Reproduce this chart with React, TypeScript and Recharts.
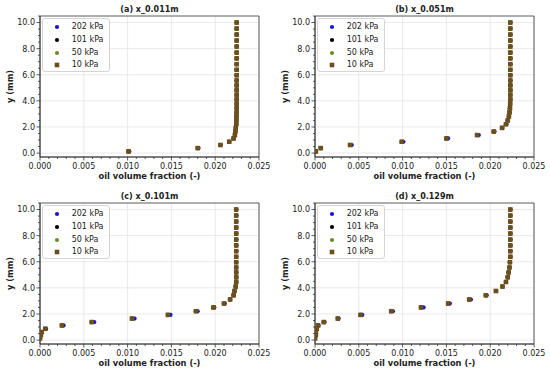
import React from "react";
import { CartesianGrid, Legend, ReferenceArea, Scatter, ScatterChart, XAxis, YAxis } from "recharts";

// y positions of the probe cells (mm), shared by all four stations
const yCells = [
  0.13, 0.38, 0.62, 0.87, 1.12, 1.38, 1.65, 1.93, 2.21, 2.5, 2.8, 3.11, 3.43, 3.76, 4.1, 4.45, 4.81, 5.18, 5.56,
  5.96, 6.38, 6.81, 7.25, 7.7, 8.16, 8.62, 9.08, 9.54, 10.0,
];

// (a) x_0.011m
const a10 = [
  0.0101, 0.018, 0.0206, 0.0216, 0.0221, 0.02225, 0.0223, 0.02235, 0.0224, 0.02242, 0.02243, 0.02244, 0.02245,
  0.02245, 0.02245, 0.02245, 0.02245, 0.02245, 0.02245, 0.02245, 0.02245, 0.02245, 0.02245, 0.02245, 0.02245,
  0.02245, 0.02245, 0.02245, 0.02245,
];
const a202 = [
  0.0102, 0.0181, 0.0206, 0.0216, 0.0221, 0.02225, 0.0223, 0.02235, 0.0224, 0.02242, 0.02243, 0.02244, 0.02245,
  0.02245, 0.02245, 0.02245, 0.02245, 0.02245, 0.02245, 0.02245, 0.02245, 0.02245, 0.02245, 0.02245, 0.02245,
  0.02245, 0.02245, 0.02245, 0.02245,
];

// (b) x_0.051m
const b10 = [
  0.0001, 0.00065, 0.004, 0.0099, 0.015, 0.0185, 0.0204, 0.02135, 0.0218, 0.022, 0.02213, 0.0222, 0.02225, 0.02228,
  0.0223, 0.0223, 0.0223, 0.0223, 0.0223, 0.0223, 0.0223, 0.0223, 0.0223, 0.0223, 0.0223, 0.0223, 0.0223, 0.0223,
  0.0223,
];
const b202 = [
  0.0001, 0.0007, 0.0042, 0.0101, 0.0152, 0.0187, 0.0205, 0.0214, 0.02185, 0.022, 0.02215, 0.0222, 0.02225, 0.02228,
  0.0223, 0.0223, 0.0223, 0.0223, 0.0223, 0.0223, 0.0223, 0.0223, 0.0223, 0.0223, 0.0223, 0.0223, 0.0223, 0.0223,
  0.0223,
];

// (c) x_0.101m
const c10 = [
  0.0, 0.0001, 0.0002, 0.0006, 0.0025, 0.0059, 0.0105, 0.0146, 0.0178, 0.0198, 0.021, 0.0217, 0.0221, 0.0222,
  0.02234, 0.0224, 0.0224, 0.0224, 0.0224, 0.0224, 0.0224, 0.0224, 0.0224, 0.0224, 0.0224, 0.0224, 0.0224, 0.0224,
  0.0224,
];
const c202 = [
  0.0, 0.0001, 0.0002, 0.0007, 0.0027, 0.0062, 0.0108, 0.0149, 0.018, 0.0199, 0.0211, 0.0217, 0.0221, 0.0222,
  0.02235, 0.0224, 0.0224, 0.0224, 0.0224, 0.0224, 0.0224, 0.0224, 0.0224, 0.0224, 0.0224, 0.0224, 0.0224, 0.0224,
  0.0224,
];

// (d) x_0.129m
const d10 = [
  0.0, 0.0001, 0.0001, 0.0002, 0.00035, 0.001, 0.0026, 0.0052, 0.0087, 0.0121, 0.0152, 0.0176, 0.0195, 0.02065,
  0.0214, 0.0218, 0.022, 0.0221, 0.0222, 0.02225, 0.0223, 0.0223, 0.0223, 0.0223, 0.0223, 0.0223, 0.0223, 0.0223,
  0.0223,
];
const d202 = [
  0.0, 0.0001, 0.0001, 0.0002, 0.0004, 0.0011, 0.0027, 0.0054, 0.0089, 0.0124, 0.0154, 0.0178, 0.0196, 0.0207,
  0.0214, 0.0218, 0.022, 0.0221, 0.0222, 0.02225, 0.0223, 0.0223, 0.0223, 0.0223, 0.0223, 0.0223, 0.0223, 0.0223,
  0.0223,
];

// 101 and 50 kPa sit right under the 10 kPa squares at this scale
const a101 = a10, a50 = a10;
const b101 = b10, b50 = b10;
const c101 = c10, c50 = c10;
const d101 = d10, d50 = d10;

const seriesNames = ["202 kPa", "101 kPa", "50 kPa", "10 kPa"];
const seriesColors = ["#1616d4", "#000000", "#6b8e23", "#6b4f1d"];
const seriesShapes = ["circle", "circle", "circle", "square"];

const xMajor = [0, 0.005, 0.01, 0.015, 0.02, 0.025];
const xMinor = [
  0.001, 0.002, 0.003, 0.004, 0.006, 0.007, 0.008, 0.009, 0.011, 0.012, 0.013, 0.014, 0.016, 0.017, 0.018, 0.019,
  0.021, 0.022, 0.023, 0.024,
];
const yMajor = [0, 2, 4, 6, 8, 10];
const yMinor = [0.5, 1, 1.5, 2.5, 3, 3.5, 4.5, 5, 5.5, 6.5, 7, 7.5, 8.5, 9, 9.5, 10.5];

const panels = [
  { title: "(a) x_0.011m", series: [a202, a101, a50, a10] },
  { title: "(b) x_0.051m", series: [b202, b101, b50, b10] },
  { title: "(c) x_0.101m", series: [c202, c101, c50, c10] },
  { title: "(d) x_0.129m", series: [d202, d101, d50, d10] },
];

const FONT = "'DejaVu Sans', sans-serif";
const INK = "#222";
const W = 275;
const H = 187;
const X_AXIS_H = 14;
const Y_AXIS_W = 36;
const M = { top: 16, right: 16, bottom: 30 - X_AXIS_H, left: 4 };

const isMajor = (list: number[], v: number) => list.some((m) => Math.abs(m - v) < 1e-9);

function XTick(props: any) {
  const { x, y, payload } = props;
  const major = isMajor(xMajor, payload.value);
  return (
    <g>
      <line x1={x} x2={x} y1={y} y2={y + (major ? 3.5 : 2)} stroke="#333" strokeWidth={0.8} />
      {major && (
        <text x={x} y={y + 11.6} textAnchor="middle" fontSize={8} fill={INK}>
          {payload.value.toFixed(3)}
        </text>
      )}
    </g>
  );
}

function YTick(props: any) {
  const { x, y, payload } = props;
  const major = isMajor(yMajor, payload.value);
  return (
    <g>
      <line x1={x - (major ? 3.5 : 2)} x2={x} y1={y} y2={y} stroke="#333" strokeWidth={0.8} />
      {major && (
        <text x={x - 5} y={y + 2.9} textAnchor="end" fontSize={8} fill={INK}>
          {payload.value.toFixed(1)}
        </text>
      )}
    </g>
  );
}

const markerShape = (color: string, shape: string) => (p: any) =>
  shape === "square" ? (
    <rect x={p.cx - 2.3} y={p.cy - 2.3} width={4.6} height={4.6} fill={color} />
  ) : (
    <circle cx={p.cx} cy={p.cy} r={2.1} fill={color} />
  );

function LegendBox() {
  return (
    <div
      style={{
        position: "relative",
        width: 68,
        height: 54,
        boxSizing: "border-box",
        border: "1px solid #d4d4d4",
        borderRadius: 3,
        background: "rgba(255,255,255,0.8)",
        fontFamily: FONT,
        fontSize: 8,
        color: INK,
      }}
    >
      {seriesNames.map((name, i) => (
        <div key={name} style={{ position: "absolute", left: 0, top: 2.3 + i * 12.6, height: 12, width: 66 }}>
          <svg width={8} height={12} style={{ position: "absolute", left: 9.7, top: 0 }}>
            {seriesShapes[i] === "square" ? (
              <rect x={1.7} y={3.7} width={4.6} height={4.6} fill={seriesColors[i]} />
            ) : (
              <circle cx={4} cy={6} r={2.1} fill={seriesColors[i]} />
            )}
          </svg>
          <span style={{ position: "absolute", left: 28.7, top: 0, lineHeight: "12px", whiteSpace: "nowrap" }}>
            {name}
          </span>
        </div>
      ))}
    </div>
  );
}

function Panel({ title, series }: { title: string; series: number[][] }) {
  const plotW = W - M.left - M.right - Y_AXIS_W;
  return (
    <div style={{ position: "relative", width: W, height: H }}>
      <ScatterChart width={W} height={H} margin={M}>
        <CartesianGrid verticalValues={xMajor} horizontalValues={yMajor} stroke="#e3e3e3" strokeWidth={0.8} />
        <XAxis
          type="number"
          dataKey="x"
          domain={[0, 0.025]}
          allowDataOverflow
          ticks={[...xMajor, ...xMinor].sort((p, q) => p - q)}
          interval={0}
          tickSize={0}
          tickMargin={0}
          tickLine={false}
          tick={(p: any) => <XTick {...p} />}
          axisLine={{ stroke: "#333", strokeWidth: 0.8 }}
          height={X_AXIS_H}
          label={{
            value: "oil volume fraction (-)",
            position: "bottom",
            offset: 2,
            fontSize: 8.3,
            fontWeight: "bold",
            fill: INK,
          }}
        />
        <YAxis
          type="number"
          dataKey="y"
          domain={[-0.3, 10.5]}
          allowDataOverflow
          ticks={[...yMajor, ...yMinor].sort((p, q) => p - q)}
          interval={0}
          tickSize={0}
          tickMargin={0}
          tickLine={false}
          tick={(p: any) => <YTick {...p} />}
          axisLine={{ stroke: "#333", strokeWidth: 0.8 }}
          width={Y_AXIS_W}
          label={{
            value: "y (mm)",
            angle: -90,
            position: "insideLeft",
            offset: 6,
            fontSize: 8.3,
            fontWeight: "bold",
            fill: INK,
            style: { textAnchor: "middle" },
          }}
        />
        <ReferenceArea x1={0} x2={0.025} y1={-0.3} y2={10.5} fill="none" stroke="#333" strokeWidth={0.8} />
        {series.map((xs, i) => (
          <Scatter
            key={seriesNames[i]}
            name={seriesNames[i]}
            data={yCells.map((y, k) => ({ x: xs[k], y }))}
            fill={seriesColors[i]}
            shape={markerShape(seriesColors[i], seriesShapes[i])}
            isAnimationActive={false}
          />
        ))}
        <Legend
          layout="vertical"
          align="center"
          verticalAlign="middle"
          wrapperStyle={{ left: 42, top: 18, width: 68, height: 54 }}
          content={() => <LegendBox />}
        />
      </ScatterChart>
      <div
        style={{
          position: "absolute",
          left: M.left + Y_AXIS_W,
          width: plotW,
          top: 4,
          textAlign: "center",
          fontSize: 8,
          lineHeight: "12px",
          fontWeight: "bold",
          color: INK,
          fontFamily: FONT,
        }}
      >
        {title}
      </div>
    </div>
  );
}

export default function App() {
  return (
    <div
      style={{
        position: "absolute",
        left: 0,
        top: 0,
        width: 550,
        height: 374,
        background: "#fff",
        fontFamily: FONT,
        display: "grid",
        gridTemplateColumns: `${W}px ${W}px`,
        gridTemplateRows: `${H}px ${H}px`,
      }}
    >
      {panels.map((p) => (
        <Panel key={p.title} title={p.title} series={p.series} />
      ))}
    </div>
  );
}
